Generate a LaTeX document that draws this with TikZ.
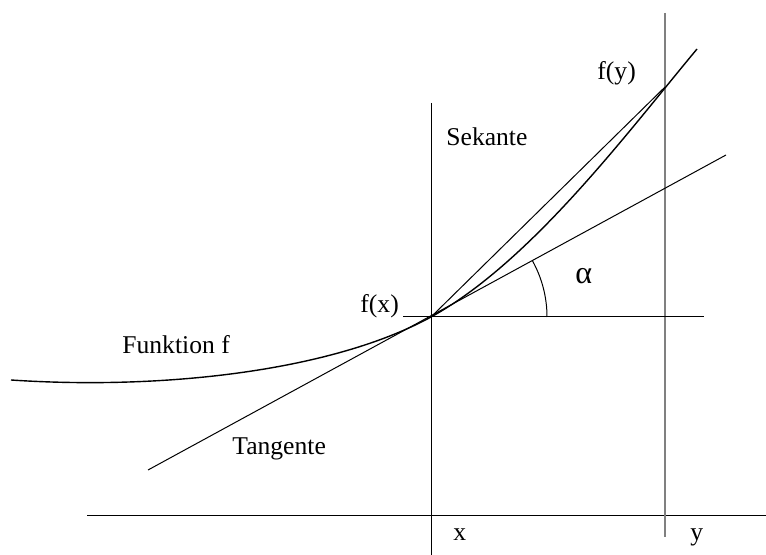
\documentclass[tikz,border=0pt]{standalone}
\usepackage{fontspec}
\setmainfont{Liberation Serif}
\usepackage{tikz}
\usetikzlibrary{positioning}
\tikzset{
  thinline/.style={
    draw=black,
    line width=0.5pt
  },
  curveline/.style={
    draw=black,
    line width=0.7pt
  },
  yline/.style={
    draw=black!50,
    line width=0.9pt
  },
  marklabel/.style={
    anchor=base west,
    inner sep=0pt,
    font=\fontsize{12.8}{14}\selectfont
  }
}

\begin{document}
\begin{tikzpicture}[x=0.5pt,y=-0.5pt]
    \useasboundingbox (0,0) rectangle (766,555);

    % points on the function
    \coordinate (fx) at (431,317);
    \coordinate (fy) at (665,87);
    \coordinate (fstart) at (11,380);
    \coordinate (fend) at (697,49);

    % axes and the two verticals
    \coordinate (axl) at (87,516);
    \coordinate (axr) at (766,516);
    \coordinate (xtop) at (431,103);
    \coordinate (xbot) at (431,555);
    \coordinate (ytop) at (665,13);
    \coordinate (ybot) at (665,537);
    \coordinate (hl) at (403,317);
    \coordinate (hr) at (704,317);
    \coordinate (tl) at (148,470);
    \coordinate (tr) at (726,155);

    \draw[thinline] (axl) -- (axr);
    \draw[thinline] (xtop) -- (xbot);
    \draw[yline] (ytop) -- (ybot);
    \draw[thinline] (hl) -- (hr);

    % tangent, secant, function
    \draw[thinline] (tl) -- (tr);
    \draw[thinline] (fx) -- (fy);
    \draw[curveline] (fstart) .. controls (160,390) and (330,372) .. (fx)
        .. controls (531,262) and (627,133) .. (fend);

    % angle
    \draw[thinline] ([shift={(0:58pt)}]fx) arc[start angle=0,end angle=29,radius=58pt];

    \node[marklabel, font=\fontsize{16}{18}\selectfont] (lalpha) at (575,284) {α};
    \node[marklabel] (lfy) at (597,80) {f(y)};
    \node[marklabel] (lsek) at (446,146) {Sekante};
    \node[marklabel] (lfx) at (360,313) {f(x)};
    \node[marklabel] (lfun) at (122,354) {Funktion f};
    \node[marklabel] (ltan) at (232,455) {Tangente};
    \node[marklabel] (lx) at (453,540) {x};
    \node[marklabel] (ly) at (690,540) {y};
\end{tikzpicture}
\end{document}
